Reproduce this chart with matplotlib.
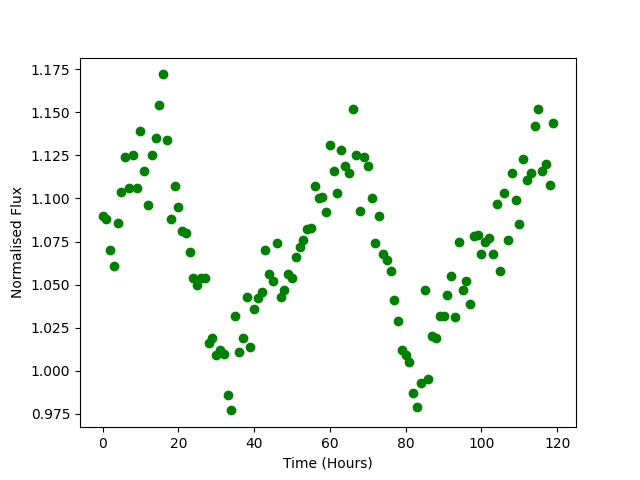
import numpy as np
import matplotlib
matplotlib.use('Agg')
import matplotlib.pyplot as plt

#hourly time stamps
time = np.arange(120)

#normalised flux
flux = [1.090, 1.088, 1.070, 1.061, 1.086, 1.104, 1.124, 1.106, 1.125, 1.106,
        1.139, 1.116, 1.096, 1.125, 1.135, 1.154, 1.172, 1.134, 1.088, 1.107,
        1.095, 1.081, 1.080, 1.069, 1.054, 1.050, 1.054, 1.054, 1.016, 1.019,
        1.009, 1.012, 1.010, 0.986, 0.977, 1.032, 1.011, 1.019, 1.043, 1.014,
        1.036, 1.042, 1.046, 1.070, 1.056, 1.052, 1.074, 1.043, 1.047, 1.056,
        1.054, 1.066, 1.072, 1.076, 1.082, 1.083, 1.107, 1.100, 1.101, 1.092,
        1.131, 1.116, 1.103, 1.128, 1.119, 1.115, 1.152, 1.125, 1.093, 1.124,
        1.119, 1.100, 1.074, 1.090, 1.068, 1.064, 1.058, 1.041, 1.029, 1.012,
        1.009, 1.005, 0.987, 0.979, 0.993, 1.047, 0.995, 1.020, 1.019, 1.032,
        1.032, 1.044, 1.055, 1.031, 1.075, 1.047, 1.052, 1.039, 1.078, 1.079,
        1.068, 1.075, 1.077, 1.068, 1.097, 1.058, 1.103, 1.076, 1.115, 1.099,
        1.085, 1.123, 1.111, 1.115, 1.142, 1.152, 1.116, 1.120, 1.108, 1.144]

fig = plt.figure(figsize=(6.4, 4.8), dpi=100)
plt.plot(time, flux, 'go')
plt.xlabel('Time (Hours)')
plt.ylabel('Normalised Flux')
plt.savefig('out.png')
